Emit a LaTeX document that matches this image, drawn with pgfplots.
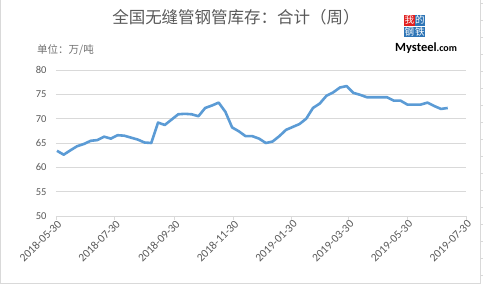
\documentclass[border=0pt]{standalone}
\usepackage{pgfplots}
\pgfplotsset{compat=1.18}
\usepackage{fontspec}
\setmainfont{Carlito}
\newfontfamily\cjk{Noto Sans CJK SC}
\definecolor{linecol}{HTML}{5B9BD5}
\definecolor{txtcol}{HTML}{595959}
\definecolor{gridcol}{HTML}{D9D9D9}
\definecolor{logored}{HTML}{E02020}
\definecolor{logoblue}{HTML}{2E75B6}
\pgfplotstableread{
day val
1 63.4
8 62.6
15 63.5
22 64.35
29 64.8
36 65.45
43 65.6
50 66.3
57 65.9
64 66.6
71 66.5
78 66.1
85 65.7
92 65.1
99 65.0
106 69.2
113 68.7
120 69.8
127 70.9
134 71.0
141 70.9
148 70.5
155 72.2
162 72.7
169 73.3
176 71.4
183 68.2
190 67.4
197 66.4
204 66.4
211 65.9
218 65.0
225 65.3
232 66.4
239 67.7
246 68.3
253 68.9
260 70.0
267 72.2
274 73.1
281 74.7
288 75.4
295 76.4
302 76.7
309 75.3
316 74.9
323 74.4
330 74.4
337 74.4
344 74.4
351 73.7
358 73.7
365 72.9
372 72.9
379 72.9
386 73.3
393 72.6
400 72.0
407 72.2
}\datatable
\begin{document}
\begin{tikzpicture}[x=1pt,y=1pt]
\useasboundingbox (0,0) rectangle (483,285);
% outer frame
\draw[gridcol,line width=0.8pt] (0.5,285) -- (0.5,2) -- (480.5,2) -- (480.5,285);
\foreach \yy in {10,27,44,61,78,95,112,129,146,163,180,197,214,231,248,265,282}
  \draw[gridcol,line width=0.6pt] (480.5,\yy) -- (483,\yy);
\begin{axis}[
  at={(56pt,69pt)}, anchor=south west,
  scale only axis, width=410pt, height=146pt,
  xmin=0, xmax=426, ymin=50, ymax=80,
  xtick={0,61,123,184,245,304,365,426},
  xticklabels={2018-05-30,2018-07-30,2018-09-30,2018-11-30,2019-01-30,2019-03-30,2019-05-30,2019-07-30},
  ytick={50,55,...,80},
  separate axis lines,
  axis x line*=bottom, axis y line*=left,
  y axis line style={draw=none},
  x axis line style={draw=gridcol, line width=0.8pt},
  ytick style={draw=none},
  xtick style={draw=gridcol, line width=0.8pt},
  tick align=outside, major tick length=4pt,
  ymajorgrids, grid style={draw=gridcol, line width=0.8pt},
  /pgf/number format/assume math mode=true,
  ticklabel style={font=\fontsize{10.5}{12}\selectfont, text=txtcol},
  xticklabel style={font=\fontsize{11.5}{12}\selectfont, rotate=45, anchor=east, inner sep=1pt, yshift=-4pt, xshift=2pt},
  yticklabel style={xshift=-2pt},
  clip=false,
]
\addplot[linecol, line width=2.6pt, line join=round] table[x=day,y=val]{\datatable};
\end{axis}
\node[text=txtcol, font=\cjk\fontsize{16.5}{18}\selectfont] at (236,268) {全国无缝管钢管库存：合计（周）};
\node[text=txtcol!85, font=\cjk\fontsize{10.5}{12}\selectfont, anchor=west, inner sep=0pt] at (37,235) {单位：万/吨};
% logo
\fill[logored] (404,270) rectangle (414.5,259.5);
\fill[logoblue] (414.5,270) rectangle (425,259.5);
\fill[logoblue] (404,258.5) rectangle (414.5,248);
\fill[logoblue] (414.5,258.5) rectangle (425,248);
\node[white, font=\cjk\fontsize{9.5}{10}\selectfont, inner sep=0pt] at (409.25,264.75) {我};
\node[white, font=\cjk\fontsize{9.5}{10}\selectfont, inner sep=0pt] at (419.75,264.75) {的};
\node[white, font=\cjk\fontsize{9.5}{10}\selectfont, inner sep=0pt] at (409.25,253.25) {钢};
\node[white, font=\cjk\fontsize{9.5}{10}\selectfont, inner sep=0pt] at (419.75,253.25) {铁};
\node[anchor=base west, inner sep=0pt, font=\bfseries] at (395,233.5) {\fontsize{12.5}{13}\selectfont Mysteel\fontsize{10}{11}\selectfont.com};
\end{tikzpicture}
\end{document}
